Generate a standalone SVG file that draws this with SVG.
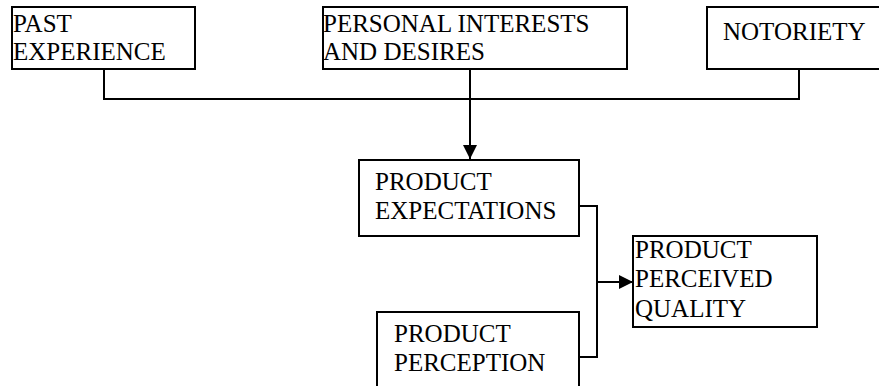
<svg xmlns="http://www.w3.org/2000/svg" width="879" height="386" viewBox="0 0 879 386">
<style>
.box{fill:#fff;stroke:#000;stroke-width:2}
.t{font-family:"Liberation Serif","Times New Roman",serif;font-size:25px;fill:#000}
.c{fill:none;stroke:#000;stroke-width:2}
</style>
<defs>
<marker id="ah2" viewBox="0 0 14 14" markerWidth="14" markerHeight="14" refX="14" refY="7" orient="auto" markerUnits="userSpaceOnUse">
<path d="M0,0 L14,7 L0,14 Z" fill="#000"/>
</marker>
</defs>
<rect width="879" height="386" fill="#fff"/>
<g id="connectors">
<polyline class="c" points="104,69 104,99 799,99 799,69"/>
<line class="c" x1="470" y1="69" x2="470" y2="159" marker-end="url(#ah2)"/>
<polyline class="c" points="579,206 597,206 597,357 579,357"/>
<line class="c" x1="597" y1="282" x2="633" y2="282" marker-end="url(#ah2)"/>
</g>
<g id="past-experience">
<rect class="box" x="12" y="7" width="183" height="62"/>
<text class="t" x="13" y="32">PAST</text>
<text class="t" x="13" y="60">EXPERIENCE</text>
</g>
<g id="personal-interests">
<rect class="box" x="323" y="7" width="304" height="62"/>
<text class="t" x="323" y="32">PERSONAL INTERESTS</text>
<text class="t" x="323" y="60">AND DESIRES</text>
</g>
<g id="notoriety">
<rect class="box" x="707" y="7" width="180" height="62"/>
<text class="t" x="723" y="40">NOTORIETY</text>
</g>
<g id="product-expectations">
<rect class="box" x="359" y="160" width="220" height="76"/>
<text class="t" x="375" y="190">PRODUCT</text>
<text class="t" x="375" y="219">EXPECTATIONS</text>
</g>
<g id="product-perception">
<rect class="box" x="377" y="312" width="202" height="90"/>
<text class="t" x="394" y="342">PRODUCT</text>
<text class="t" x="394" y="371">PERCEPTION</text>
</g>
<g id="product-perceived-quality">
<rect class="box" x="633" y="236" width="184" height="91"/>
<text class="t" x="635" y="258">PRODUCT</text>
<text class="t" x="635" y="287">PERCEIVED</text>
<text class="t" x="635" y="317">QUALITY</text>
</g>
</svg>
